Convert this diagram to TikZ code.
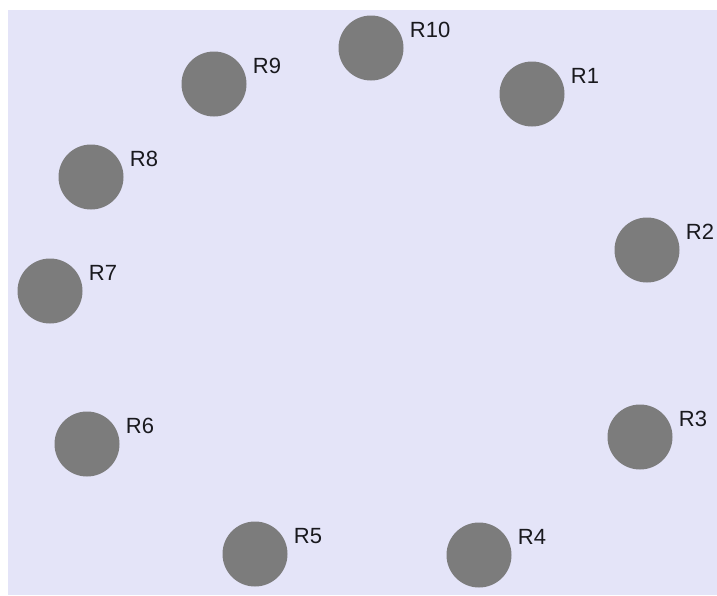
\documentclass[tikz,border=0pt]{standalone}
\usepackage{fontspec}
\setmainfont{Liberation Sans}
\usepackage{xcolor}
\usepackage{tikz}
\usetikzlibrary{positioning}

\definecolor{fieldbg}{RGB}{228,228,248}
\definecolor{robotgray}{RGB}{124,124,124}
\definecolor{tagink}{RGB}{25,25,30}

\begin{document}
\begin{tikzpicture}[x=1pt,y=-1pt,
  robot/.style={circle, fill=robotgray, minimum size=65pt, inner sep=0pt},
  tag/.style={font=\fontsize{22}{24}\selectfont, text=tagink, inner sep=0pt, anchor=west}]
\useasboundingbox (0,0) rectangle (717,595);
\fill[fieldbg] (8,10) rectangle (717,595);
% robots, clockwise from the top
\foreach \n/\x/\y in {1/532/94, 2/647/250, 3/640/437, 4/479/555, 5/255/554,
                      6/87/444, 7/50/291, 8/91/177, 9/214/84, 10/371/48} {
  \node[robot] (r\n) at (\x,\y) {};
  \node[tag] (t\n) at ([shift={(6,-18)}]r\n.east) {R\n};
}
\end{tikzpicture}
\end{document}
